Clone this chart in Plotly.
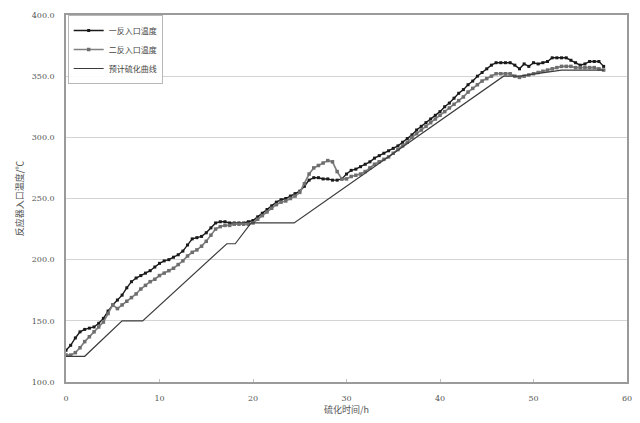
import plotly.graph_objects as go

# Sulfidation time (h), sampled every half hour
time_h = [i * 0.5 for i in range(116)]

# Reactor 1 inlet temperature (°C)
reactor1_T = [
    126, 130, 136, 141, 143, 144, 145, 148, 152, 158,
    163, 167, 171, 177, 182, 185, 187, 189, 191, 194,
    197, 199, 200, 202, 204, 207, 212, 217, 218, 219,
    222, 226, 230, 231, 231, 230, 230, 230, 230, 231,
    232, 235, 238, 241, 244, 247, 249, 250, 252, 254,
    256, 260, 265, 267, 267, 266, 266, 265, 265, 266,
    270, 273, 274, 276, 278, 280, 283, 285, 287, 289,
    291, 293, 296, 299, 302, 306, 309, 312, 315, 318,
    321, 325, 328, 332, 336, 339, 343, 346, 350, 353,
    356, 359, 361, 361, 361, 361, 359, 356, 360, 358,
    361, 360, 361, 362, 365, 365, 365, 365, 363, 361,
    359, 360, 362, 362, 362, 358,
]

# Reactor 2 inlet temperature (°C)
reactor2_T = [
    122, 122, 124, 128, 133, 137, 141, 145, 149, 156,
    163, 160, 163, 166, 169, 172, 176, 179, 182, 184,
    187, 189, 191, 193, 196, 199, 203, 206, 208, 211,
    215, 220, 225, 227, 228, 228, 229, 229, 229, 229,
    230, 233, 236, 239, 242, 245, 247, 248, 250, 252,
    255, 262, 270, 275, 277, 279, 281, 280, 272, 266,
    266, 268, 269, 270, 272, 275, 278, 280, 282, 284,
    287, 290, 293, 296, 300, 303, 306, 309, 312, 315,
    318, 321, 324, 327, 330, 333, 337, 340, 343, 346,
    348, 350, 352, 352, 352, 352, 350, 349, 350, 351,
    352, 353, 354, 355, 356, 357, 358, 358, 358, 357,
    357, 357, 357, 357, 356, 355,
]

# Planned sulfidation temperature schedule
plan_t = [0, 2, 6, 8.2, 17.2, 18.1, 19.8, 24.4, 46.8, 48.5, 53, 57.5]
plan_T = [121, 121, 150, 150, 213, 213, 230, 230, 350, 350, 355, 355]

series_names = ["一反入口温度", "二反入口温度", "预计硫化曲线"]

fig = go.Figure()
fig.add_trace(go.Scatter(
    x=time_h, y=reactor1_T, name=series_names[0], mode="lines+markers",
    line=dict(color="#1a1a1a", width=1.4),
    marker=dict(symbol="square", size=3, color="#1a1a1a"),
))
fig.add_trace(go.Scatter(
    x=time_h, y=reactor2_T, name=series_names[1], mode="lines+markers",
    line=dict(color="#808080", width=1.7),
    marker=dict(symbol="square", size=3.5, color="#6e6e6e"),
))
fig.add_trace(go.Scatter(
    x=plan_t, y=plan_T, name=series_names[2], mode="lines",
    line=dict(color="#3c3c3c", width=1.2),
))

font_cjk = "Noto Sans CJK SC, DejaVu Serif, serif"

fig.update_layout(
    width=640, height=423,
    margin=dict(l=66, r=8, t=15, b=41),
    paper_bgcolor="white", plot_bgcolor="white",
    font=dict(family=font_cjk, size=9, color="#555555"),
    showlegend=True,
    legend=dict(
        x=0.003, y=1.0, xanchor="left", yanchor="top",
        bgcolor="rgba(255,255,255,0.9)", bordercolor="#b8b8b8", borderwidth=1,
        font=dict(family=font_cjk, size=8, color="#444444"),
        itemwidth=30, tracegroupgap=0,
    ),
    xaxis=dict(
        range=[0, 60], dtick=10, tick0=0,
        showgrid=False, zeroline=False,
        showline=True, linecolor="#9a9a9a", linewidth=1.5, mirror=True,
        ticks="inside", ticklen=3, tickcolor="#c0c0c0",
        ticklabelstandoff=8,
        tickfont=dict(family="DejaVu Serif, serif", size=8, color="#555555"),
        title=dict(text="硫化时间/h", font=dict(family=font_cjk, size=9, color="#555555"), standoff=4),
    ),
    yaxis=dict(
        range=[100, 400], dtick=50, tick0=100, tickformat=".1f",
        showgrid=True, gridcolor="#d4d4d4", gridwidth=1.2, zeroline=False,
        showline=True, linecolor="#9a9a9a", linewidth=1.5, mirror=True,
        ticks="", ticklabelstandoff=8,
        tickfont=dict(family="DejaVu Serif, serif", size=8, color="#555555"),
        title=dict(text="反应器入口温度/℃", font=dict(family=font_cjk, size=9, color="#555555"), standoff=7),
    ),
)

fig.write_html("out.html")
